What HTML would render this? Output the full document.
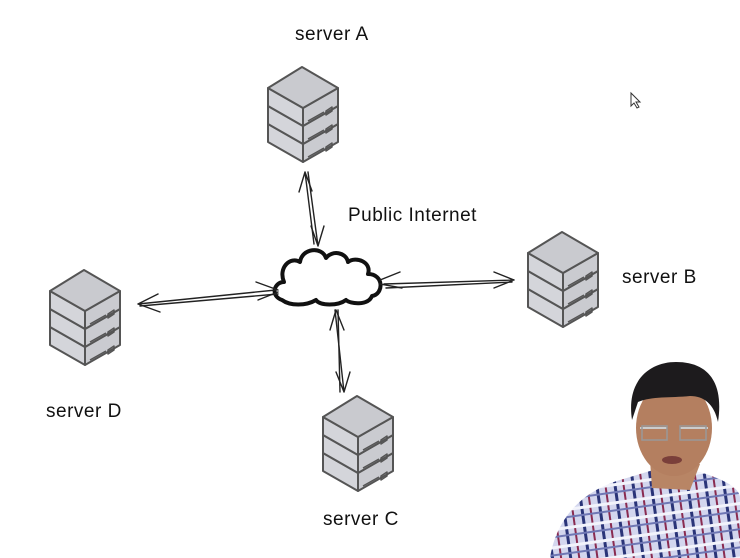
<!DOCTYPE html>
<html><head><style>
html,body{margin:0;padding:0;background:#fff;}
svg{display:block}
text{font-family:"Liberation Sans",sans-serif;font-size:19px;fill:#111;letter-spacing:0.5px;}
</style></head><body>
<svg width="740" height="558" viewBox="0 0 740 558" xmlns="http://www.w3.org/2000/svg">
<defs>
<g id="srv" stroke="#555" stroke-width="2" stroke-linejoin="round">
  <g>
    <path d="M0,57 L35,77 L35,95 L0,75 Z" fill="#d4d5da"/>
    <path d="M35,77 L70,57 L70,75 L35,95 Z" fill="#cacbd0"/>
    <path d="M0,39 L35,59 L35,77 L0,57 Z" fill="#d4d5da"/>
    <path d="M35,59 L70,39 L70,57 L35,77 Z" fill="#cacbd0"/>
    <path d="M0,21 L35,41 L35,59 L0,39 Z" fill="#d4d5da"/>
    <path d="M35,41 L70,21 L70,39 L35,59 Z" fill="#cacbd0"/>
    <path d="M34,0 L70,21 L35,41 L0,21 Z" fill="#c9cacf"/>
  </g>
  <g stroke-width="1.5" fill="none">
    <path d="M40,54 L56,45 M58,44 L64,40 L64,44 L58,48 Z"/>
    <path d="M40,72 L56,63 M58,62 L64,58 L64,62 L58,66 Z"/>
    <path d="M40,90 L56,81 M58,80 L64,76 L64,80 L58,84 Z"/>
  </g>
</g>
<pattern id="plaid" width="18" height="18" patternUnits="userSpaceOnUse" patternTransform="rotate(-8)">
  <rect width="18" height="18" fill="#d3d6ee"/>
  <rect x="0" width="3" height="18" fill="#2a3478"/>
  <rect x="9" width="2" height="18" fill="#8a2b50"/>
  <rect y="6" width="18" height="3" fill="#f2f3fb"/>
  <rect y="14" width="18" height="2" fill="#6f77b4"/>
</pattern>
</defs>
<rect width="740" height="558" fill="#fff"/>
<use href="#srv" x="268" y="67"/>
<use href="#srv" x="528" y="232"/>
<use href="#srv" x="50" y="270"/>
<use href="#srv" x="323" y="396"/>

<text x="295" y="40">server A</text>
<text x="622" y="283">server B</text>
<text x="46" y="417">server D</text>
<text x="323" y="525">server C</text>
<text x="348" y="221">Public Internet</text>

<path d="M282,300 C270,296 274,282 284,282 C278,268 290,256 300,262 C302,248 322,246 326,258 C332,250 346,252 348,262 C356,256 372,262 368,274 C384,274 384,294 372,296 C368,306 350,304 346,300 C338,306 320,306 316,300 C306,306 290,306 282,300 Z" fill="#fff" stroke="#111" stroke-width="4" stroke-linejoin="round"/>

<g stroke="#222" stroke-width="1.4" fill="none" stroke-linecap="round">
  <path d="M314,244 L305,172 M305,172 L299,192 M305,172 L312,191"/>
  <path d="M308,172 L318,246 M318,246 L311,226 M318,246 L324,226"/>
  <path d="M384,284 L514,280 M514,280 L494,272 M514,280 L494,288"/>
  <path d="M386,288 L512,282"/>
  <path d="M380,280 L400,272 M380,284 L402,288"/>
  <path d="M276,290 L138,304 M138,304 L158,294 M138,304 L160,312"/>
  <path d="M278,294 L140,306"/>
  <path d="M278,290 L256,282 M278,292 L258,300"/>
  <path d="M335,310 L344,392 M344,392 L336,372 M344,392 L350,372"/>
  <path d="M338,310 L340,392"/>
  <path d="M336,310 L330,330 M336,310 L344,330"/>
</g>

<path d="M631,93 L631,106 L634,103 L637,108 L639,107 L636,102 L640,102 Z" fill="#fff" stroke="#333" stroke-width="1"/>

<path d="M550,558 C556,520 580,492 620,480 L660,468 L700,472 C725,480 740,488 740,498 L740,558 Z" fill="url(#plaid)"/>
<path d="M650,460 L652,488 L690,490 L700,464 Z" fill="#b88565"/>
<ellipse cx="674" cy="428" rx="38" ry="48" fill="#b47f60"/>
<path d="M632,420 C626,380 650,362 676,362 C708,362 724,382 718,422 C714,404 704,396 690,396 C670,398 652,396 638,402 Z" fill="#1d1b1d"/>
<path d="M640,428 L667,428 M680,428 L708,428" stroke="#ccc" stroke-width="2"/>
<rect x="642" y="426" width="25" height="14" fill="none" stroke="#999" stroke-width="1.5"/>
<rect x="680" y="426" width="26" height="14" fill="none" stroke="#999" stroke-width="1.5"/>
<ellipse cx="672" cy="460" rx="10" ry="4" fill="#7a3f3a"/>
</svg>
</body></html>
